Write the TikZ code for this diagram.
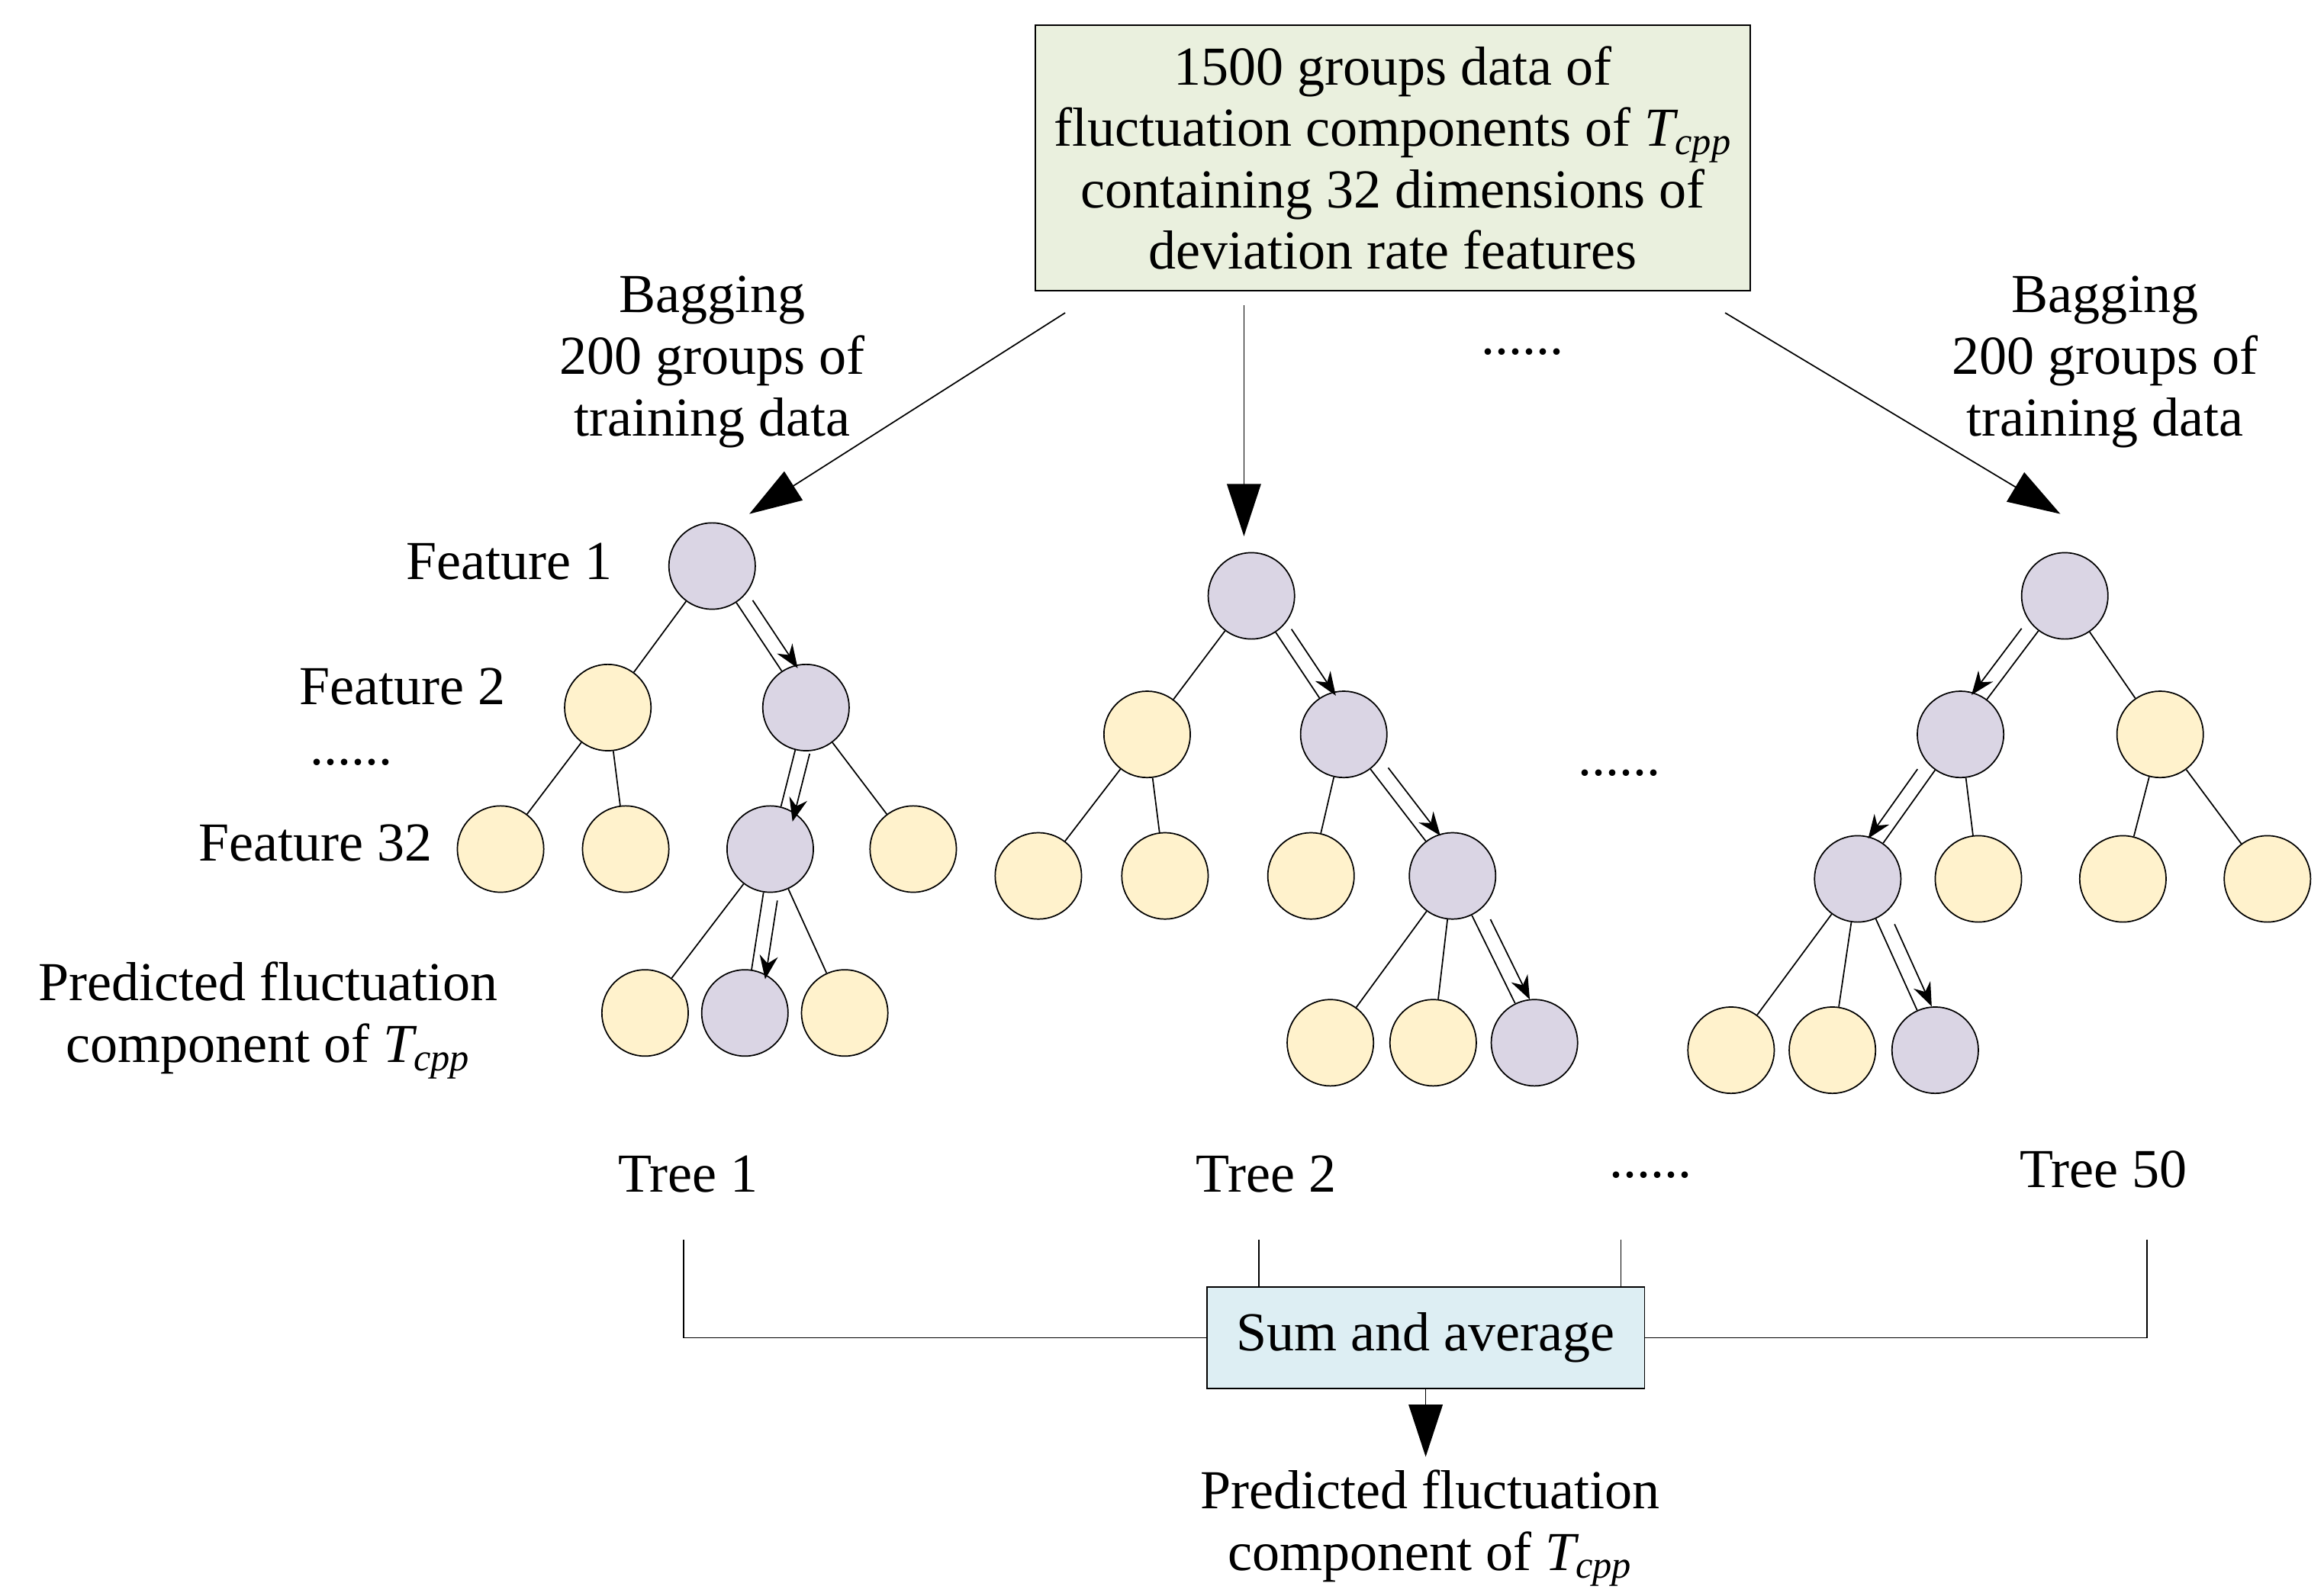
\documentclass[tikz,border=0pt]{standalone}
\usepackage{fontspec}
\setmainfont{Liberation Serif}
\usetikzlibrary{arrows.meta,calc}
\definecolor{purp}{HTML}{DAD5E4}
\definecolor{yel}{HTML}{FFF2CC}
\definecolor{grn}{HTML}{EAF0DE}
\definecolor{blu}{HTML}{DDEEF3}
\newcommand{\Tcpp}{\textit{T\textsubscript{cpp}}}
\newcommand{\pth}[3]{\draw[-{Stealth[length=9pt,width=7pt]}] ($(#1)!.3!(#2)!.2cm!#3:(#2)$) -- ($(#1)!.78!(#2)!.2cm!#3:(#2)$);}
\begin{document}
\begin{tikzpicture}[x=0.02cm,y=-0.02cm,line width=0.5pt,
  txt/.style={font=\fontsize{21}{23.5}\selectfont,align=center},
  p/.style={circle,draw,fill=purp,minimum size=1.16cm,inner sep=0},
  yy/.style={circle,draw,fill=yel,minimum size=1.16cm,inner sep=0},
  big/.style={-{Triangle[length=20pt,width=13pt]}}]
\useasboundingbox (0,0) rectangle (1560,1071);
\node[txt,draw,fill=grn,minimum width=9.6cm,minimum height=3.56cm] (top) at (935,106) {1500 groups data of\\fluctuation components of \Tcpp\\containing 32 dimensions of\\deviation rate features};
\node[txt] (bl) at (478,243) {Bagging\\200 groups of\\training data};
\node[txt] (br) at (1413,243) {Bagging\\200 groups of\\training data};
\node[txt] (d0) at (1022,236) {......};
% tree 1
\node[p] (a) at (478,380) {};
\node[yy] (a1) at (408,475) {}; \node[p] (a2) at (541,475) {};
\node[yy] (a11) at (336,570) {}; \node[yy] (a12) at (420,570) {};
\node[p] (a21) at (517,570) {}; \node[yy] (a22) at (613,570) {};
\node[yy] (a211) at (433,680) {}; \node[p] (a212) at (500,680) {}; \node[yy] (a213) at (567,680) {};
\draw (a)--(a1) (a)--(a2) (a1)--(a11) (a1)--(a12) (a2)--(a21) (a2)--(a22) (a21)--(a211) (a21)--(a212) (a21)--(a213);
\pth{a}{a2}{90} \pth{a2}{a21}{90} \pth{a21}{a212}{90}
\node[txt] (f1) at (342,377) {Feature 1};
\node[txt] (f2) at (270,461) {Feature 2};
\node[txt] (fd) at (236,512) {......};
\node[txt] (f32) at (212,566) {Feature 32};
\node[txt] (pf) at (180,685) {Predicted fluctuation\\component of \Tcpp};
% tree 2
\node[p] (b) at (840,400) {};
\node[yy] (b1) at (770,493) {}; \node[p] (b2) at (902,493) {};
\node[yy] (b11) at (697,588) {}; \node[yy] (b12) at (782,588) {};
\node[yy] (b21) at (880,588) {}; \node[p] (b22) at (975,588) {};
\node[yy] (b221) at (893,700) {}; \node[yy] (b222) at (962,700) {}; \node[p] (b223) at (1030,700) {};
\draw (b)--(b1) (b)--(b2) (b1)--(b11) (b1)--(b12) (b2)--(b21) (b2)--(b22) (b22)--(b221) (b22)--(b222) (b22)--(b223);
\pth{b}{b2}{90} \pth{b2}{b22}{90} \pth{b22}{b223}{90}
% tree 3
\node[p] (c) at (1386,400) {};
\node[p] (c1) at (1316,493) {}; \node[yy] (c2) at (1450,493) {};
\node[p] (c11) at (1247,590) {}; \node[yy] (c12) at (1328,590) {};
\node[yy] (c21) at (1425,590) {}; \node[yy] (c22) at (1522,590) {};
\node[yy] (c111) at (1162,705) {}; \node[yy] (c112) at (1230,705) {}; \node[p] (c113) at (1299,705) {};
\draw (c)--(c1) (c)--(c2) (c1)--(c11) (c1)--(c12) (c2)--(c21) (c2)--(c22) (c11)--(c111) (c11)--(c112) (c11)--(c113);
\pth{c}{c1}{-90} \pth{c1}{c11}{-90} \pth{c11}{c113}{90}
\node[txt] (dm) at (1087,519) {......};
% big arrows
\coordinate (s1) at (715,210); \coordinate (e1) at (503,345);
\coordinate (s2) at (835,205); \coordinate (e2) at (835,360);
\coordinate (s3) at (1158,210); \coordinate (e3) at (1383,345);
\draw[big] (s1)--(e1); \draw[big] (s2)--(e2); \draw[big] (s3)--(e3);
% labels
\node[txt] (t1) at (462,788) {Tree 1};
\node[txt] (t2) at (850,788) {Tree 2};
\node[txt] (td) at (1108,789) {......};
\node[txt] (t50) at (1412,785) {Tree 50};
\node[txt,draw,fill=blu,minimum width=5.88cm,minimum height=1.36cm] (sum) at (957,898) {Sum and average};
\coordinate (k1) at (459,832); \coordinate (k2) at (845,832); \coordinate (k3) at (1088,832); \coordinate (k4) at (1441,832);
\draw (k1) |- (sum.west); \draw (k4) |- (sum.east);
\draw (k2) -- (k2|-sum.north); \draw (k3) -- (k3|-sum.north);
\node[txt] (out) at (960,1026) {Predicted fluctuation\\component of \Tcpp};
\coordinate (oe) at (957,978);
\draw[big] (sum.south) -- (oe);
\end{tikzpicture}
\end{document}
